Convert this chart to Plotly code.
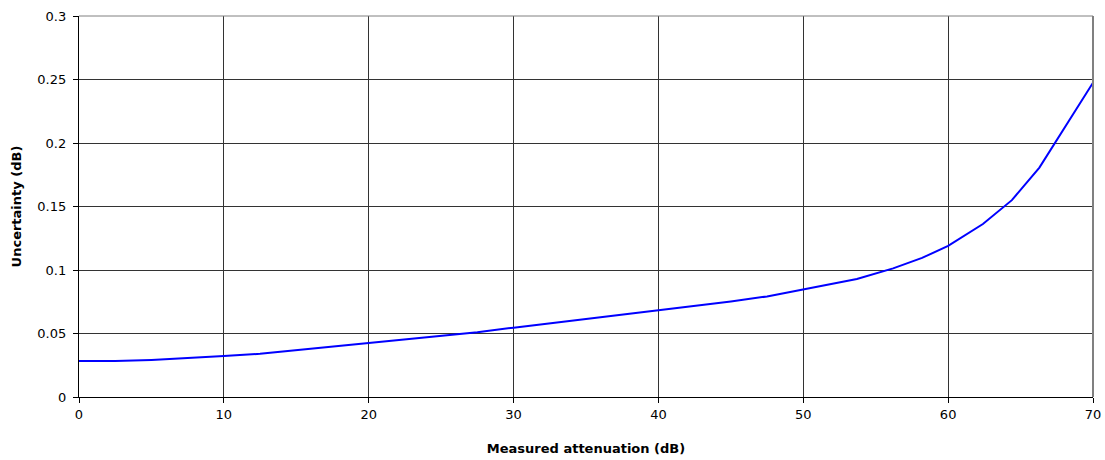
import plotly.graph_objects as go

# Measured attenuation (dB) and the associated uncertainty (dB)
attenuation_db = [0, 2.5, 5, 7.5, 10, 12.5, 15, 17.5, 20, 22.5, 25, 27.5, 30, 32.5,
                  35, 37.5, 40, 42.5, 45, 47.5, 50, 53.7, 56.2, 58.2, 60, 62.4,
                  64.4, 66.3, 70]
uncertainty_db = [0.0283, 0.0283, 0.0292, 0.0305, 0.0322, 0.0340, 0.0368, 0.0395,
                  0.0422, 0.0450, 0.0478, 0.0510, 0.0546, 0.0580, 0.0612, 0.0645,
                  0.0680, 0.0715, 0.0752, 0.0792, 0.0845, 0.0929, 0.1013, 0.1095,
                  0.1190, 0.1362, 0.1550, 0.1806, 0.2475]

x_ticks = [0, 10, 20, 30, 40, 50, 60, 70]
y_ticks = [0, 0.05, 0.1, 0.15, 0.2, 0.25, 0.3]
y_tick_text = ["0", "0.05", "0.1", "0.15", "0.2", "0.25", "0.3"]

fig = go.Figure()
fig.add_trace(go.Scatter(
    x=attenuation_db, y=uncertainty_db, mode="lines",
    line=dict(color="#0000ff", width=2), showlegend=False,
))

font = dict(family="DejaVu Sans, Arial, sans-serif", size=13, color="#000000")
title_font = dict(family="DejaVu Sans, Arial, sans-serif", size=13,
                  color="#000000", weight="bold")

fig.update_layout(
    width=1105, height=460,
    autosize=False,
    margin=dict(l=79, r=12, t=16, b=63, autoexpand=False),
    paper_bgcolor="white", plot_bgcolor="white",
    font=font,
    xaxis=dict(
        range=[0, 70], tickvals=x_ticks, ticks="outside", ticklen=5,
        tickcolor="#000000", showline=True, linecolor="#000000", linewidth=1,
        showgrid=True, gridcolor="#333333", gridwidth=1, zeroline=False,
        title=dict(text="Measured attenuation (dB)", standoff=23,
                   font=title_font),
        automargin=False, fixedrange=True,
    ),
    yaxis=dict(
        range=[0, 0.3], tickvals=y_ticks,
        ticktext=[t + "\u00a0" for t in y_tick_text], ticks="outside",
        ticklen=5, tickcolor="#000000", showline=True, linecolor="#000000",
        linewidth=1, showgrid=True, gridcolor="#333333", gridwidth=1,
        zeroline=False,
        title=dict(text="Uncertainty (dB)", standoff=12, font=title_font),
        automargin=False, fixedrange=True,
    ),
    shapes=[
        # grey frame on the top and right edges of the plot area
        dict(type="line", xref="paper", yref="paper", x0=0, x1=1, y0=1, y1=1,
             line=dict(color="#808080", width=1)),
        dict(type="line", xref="paper", yref="paper", x0=1, x1=1, y0=0, y1=1,
             line=dict(color="#808080", width=2)),
    ],
)

fig.write_html("out.html")
